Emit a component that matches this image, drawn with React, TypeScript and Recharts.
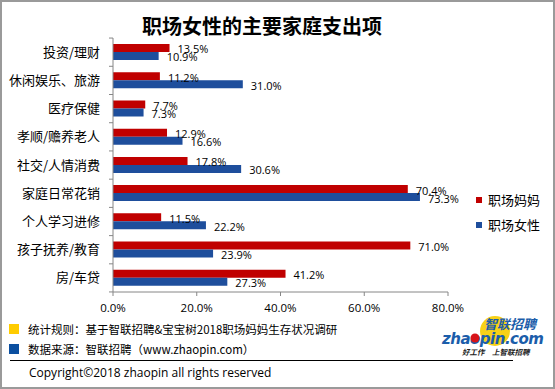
import { BarChart, Bar, XAxis, YAxis, LabelList } from "recharts";

// 支出项目 (위에서 아래 순서)
const categories = [
  "投资/理财",
  "休闲娱乐、旅游",
  "医疗保健",
  "孝顺/赡养老人",
  "社交/人情消费",
  "家庭日常花销",
  "个人学习进修",
  "孩子抚养/教育",
  "房/车贷",
];

// 职场妈妈 (%)
const momValues = [13.5, 11.2, 7.7, 12.9, 17.8, 70.4, 11.5, 71.0, 41.2];
// 职场女性 (%)
const womanValues = [10.9, 31.0, 7.3, 16.6, 30.6, 73.3, 22.2, 23.9, 27.3];

const xTicks = [0, 20, 40, 60, 80];

const seriesNames = ["职场妈妈", "职场女性"];

const RED = "#C00000";
const BLUE = "#1E4E9C";
const AXIS = "#868686";
const FONT = "'Open Sans', 'Noto Sans CJK SC', sans-serif";
const CJK = "'Noto Sans CJK SC', sans-serif";

const W = 555;
const H = 389;
const AXIS_X = 113;
const BAND = 28.1;

const data = categories.map((name, i) => ({
  name,
  mom: momValues[i],
  woman: womanValues[i],
}));

const pct = (v: number) => `${Number(v).toFixed(1)}%`;

// y축 라벨 + 카테고리 경계 눈금 (엑셀처럼 칸 사이에 눈금)
const CategoryTick = (props: any) => {
  const { y, payload, index } = props;
  const top = y - BAND / 2;
  return (
    <g>
      <text
        x={AXIS_X - 13}
        y={y}
        dy={4.5}
        textAnchor="end"
        fontSize={13}
        fontFamily={CJK}
        fill="#000"
      >
        {payload.value}
      </text>
      <line x1={AXIS_X - 4} x2={AXIS_X} y1={top} y2={top} stroke={AXIS} />
      {index === categories.length - 1 && (
        <line
          x1={AXIS_X - 4}
          x2={AXIS_X}
          y1={top + BAND}
          y2={top + BAND}
          stroke={AXIS}
        />
      )}
    </g>
  );
};

export default function App() {
  return (
    <div
      style={{
        position: "relative",
        width: W,
        height: H,
        boxSizing: "border-box",
        border: "2px solid #9a9a9a",
        background: "#fff",
        overflow: "hidden",
      }}
    >
      <style>{`body{margin:0}`}</style>

      {/* 제목 */}
      <div
        style={{
          position: "absolute",
          left: 0,
          top: 11,
          width: 520,
          textAlign: "center",
          fontFamily: CJK,
          fontWeight: 700,
          fontSize: 20,
          lineHeight: "26px",
          color: "#000",
        }}
      >
        职场女性的主要家庭支出项
      </div>

      <div style={{ position: "absolute", left: -2, top: -2 }}>
        <BarChart
          width={W}
          height={H}
          data={data}
          layout="vertical"
          barGap={0}
          barSize={8}
          margin={{ top: 38, right: 107, bottom: 67, left: 8 }}
        >
          <XAxis
            type="number"
            domain={[0, 80]}
            ticks={xTicks}
            tickFormatter={pct}
            height={30}
            stroke={AXIS}
            tickSize={4}
            tickMargin={8}
            tick={{ fontSize: 11.5, fontFamily: FONT, fill: "#000" }}
          />
          <YAxis
            type="category"
            dataKey="name"
            width={105}
            stroke={AXIS}
            tickLine={false}
            interval={0}
            tick={<CategoryTick />}
          />
          <Bar dataKey="mom" fill={RED} isAnimationActive={false}>
            <LabelList
              dataKey="mom"
              position="right"
              offset={8}
              formatter={pct}
              style={{ fontSize: 11, fontFamily: FONT, fill: "#000" }}
              dy={1.5}
            />
          </Bar>
          <Bar dataKey="woman" fill={BLUE} isAnimationActive={false}>
            <LabelList
              dataKey="woman"
              position="right"
              offset={8}
              formatter={pct}
              style={{ fontSize: 11, fontFamily: FONT, fill: "#000" }}
              dy={1.5}
            />
          </Bar>
        </BarChart>
      </div>

      {/* 범례 */}
      {seriesNames.map((name, i) => (
        <div
          key={name}
          style={{
            position: "absolute",
            left: 474,
            top: 189 + i * 25,
            display: "flex",
            alignItems: "center",
            fontFamily: CJK,
            fontSize: 13,
            lineHeight: "18px",
          }}
        >
          <span
            style={{
              width: 6,
              height: 6,
              background: i === 0 ? RED : BLUE,
              marginRight: 6,
            }}
          />
          {name}
        </div>
      ))}

      {/* 하단 출처 */}
      <div
        style={{
          position: "absolute",
          left: 7,
          top: 320,
          fontFamily: CJK,
          fontSize: 11.5,
          lineHeight: "14px",
          color: "#000",
        }}
      >
        <div style={{ display: "flex", alignItems: "center", height: 14 }}>
          <span
            style={{ width: 10, height: 10, background: "#FFCC00", marginRight: 9 }}
          />
          统计规则：基于智联招聘&宝宝树2018职场妈妈生存状况调研
        </div>
        <div
          style={{ display: "flex", alignItems: "center", height: 14, marginTop: 6 }}
        >
          <span
            style={{ width: 10, height: 10, background: "#0B4FA0", marginRight: 9 }}
          />
          数据来源：智联招聘（www.zhaopin.com）
        </div>
      </div>

      <div
        style={{
          position: "absolute",
          left: 8,
          top: 358,
          width: 503,
          height: 1,
          background: "#000",
        }}
      />

      <div
        style={{
          position: "absolute",
          left: 27,
          top: 362,
          fontFamily: FONT,
          fontSize: 12,
          lineHeight: "17px",
          color: "#000",
        }}
      >
        Copyright©2018 zhaopin all rights reserved
      </div>

      {/* 로고 */}
      <svg
        width={110}
        height={45}
        style={{ position: "absolute", left: 435, top: 311 }}
      >
        <circle cx={58} cy={18} r={15} fill="#F7D117" />
        <text
          x={47}
          y={16}
          fontFamily={CJK}
          fontWeight={700}
          fontStyle="italic"
          fontSize={13}
          fill="#1B5DAA"
        >
          智联招聘
        </text>
        <text
          x={5}
          y={31}
          fontFamily="'DejaVu Sans', sans-serif"
          fontWeight={700}
          fontStyle="italic"
          fontSize={15}
          fill="#1B5DAA"
          letterSpacing={-0.5}
        >
          zhaopin.com
        </text>
        <circle cx={38} cy={25} r={4.5} fill="#D7141A" />
        <text
          x={25}
          y={42}
          fontFamily={CJK}
          fontStyle="italic"
          fontWeight={700}
          fontSize={7.5}
          fill="#222"
        >
          好工作　上智联招聘
        </text>
      </svg>
    </div>
  );
}
